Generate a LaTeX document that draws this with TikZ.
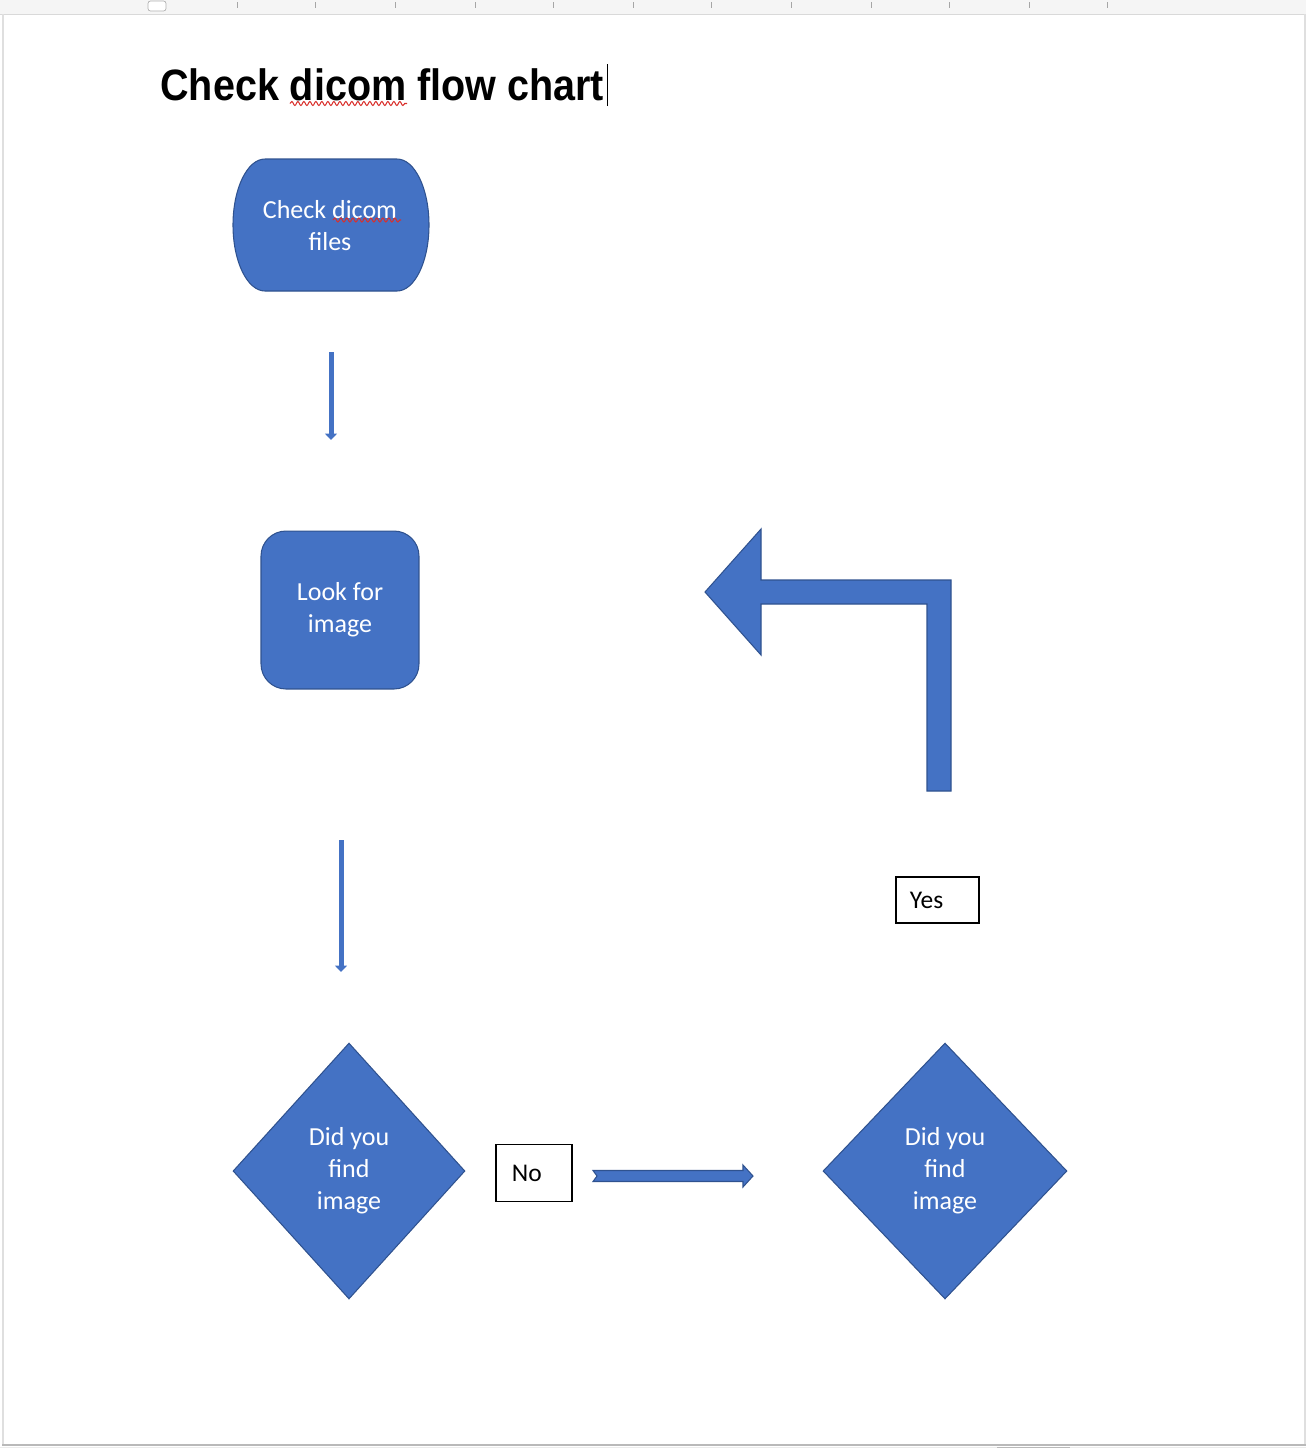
\documentclass[tikz,border=0pt]{standalone}
\usepackage{fontspec}
\setmainfont{Carlito}
\newfontfamily\titlefont[FakeStretch=0.9]{Liberation Sans}
\usepackage{tikz}
\usetikzlibrary{positioning, shapes.geometric, arrows.meta, decorations.pathmorphing}
\definecolor{shapeblue}{HTML}{4472C4}
\definecolor{shapeline}{HTML}{2F528F}
\definecolor{spellred}{HTML}{D9302C}

\begin{document}
\begin{tikzpicture}[x=0.02cm, y=-0.02cm,
    shapetext/.style={text=white, font=\fontsize{14.8}{18.2}\selectfont, align=center},
    shapefill/.style={fill=shapeblue, draw=shapeline, line width=0.6pt},
    process/.style={shapetext, shapefill, rectangle, rounded corners=0.5cm, minimum width=3.16cm, minimum height=3.16cm, inner sep=0pt},
    decision/.style={shapetext, shapefill, diamond, inner sep=0pt},
    answer/.style={draw=black, line width=1.1pt, rectangle, font=\fontsize{14.5}{17}\selectfont, align=left, inner ysep=0pt},
    thinarrow/.style={shapeblue, line width=0.1cm, -{Triangle[length=0.13cm, width=0.24cm]}},
    squiggle/.style={spellred, line width=0.6pt, decorate, decoration={snake, amplitude=0.04cm, segment length=0.12cm}}]

    \useasboundingbox (0,0) rectangle (1306,1448);

    % Page and ruler
    \fill[gray!8] (0,0) rectangle (1306,14);
    \draw[gray!30] (0,14) -- (1306,14);
    \foreach \t in {237,315,395,475,553,633,711,791,871,949,1029,1107}
        \draw[gray!70, line width=0.5pt] (\t,2) -- (\t,8);
    \draw[gray!60, fill=white, rounded corners=0.05cm] (148,1) rectangle (166,11);
    \draw[gray!25, line width=1pt] (3,14) -- (3,1445);
    \draw[gray!25, line width=1pt] (1305,14) -- (1305,1445);
    \draw[gray!55, line width=1.2pt] (2,1445) -- (1306,1445);
    \fill[gray!15] (0,1446.5) rectangle (1306,1448);
    \fill[gray!55] (997,1446.5) rectangle (1070,1448);

    % Title
    \node[anchor=base west, inner sep=0pt, font=\titlefont\bfseries\fontsize{25}{30}\selectfont] (title) at (160,100) {Check dicom flow chart};
    \draw[squiggle] (290,103.5) -- (407,103.5);
    \draw[line width=0.8pt] ([shift={(3,6)}]title.base east) -- ++(0,-42);

    % Start
    \draw[shapefill] (265,159) -- (397,159)
        .. controls (414.7,159) and (429,188.5) .. (429,225)
        .. controls (429,261.5) and (414.7,291) .. (397,291) -- (265,291)
        .. controls (247.3,291) and (233,261.5) .. (233,225)
        .. controls (233,188.5) and (247.3,159) .. (265,159) -- cycle;
    \node[shapetext] (start) at (330,226) {Check dicom\\files};
    \draw[squiggle] (333,220) -- (401,220);

    % Steps
    \node[process] (look) at (340,610) {Look for\\image};
    \node[decision, minimum width=4.64cm, minimum height=5.12cm] (find1) at (349,1171) {Did you\\find\\image};
    \node[decision, minimum width=4.88cm, minimum height=5.12cm] (find2) at (945,1171) {Did you\\find\\image};

    % Answers
    \node[answer, anchor=west, text width=0.88cm, inner xsep=0.32cm, minimum height=1.14cm] (no) at (495,1173) {No};
    \node[answer, anchor=west, text width=1.1cm, inner xsep=0.28cm, minimum height=0.92cm] (yes) at (895,900) {Yes};

    % Arrows
    \coordinate (a1s) at (331,352);
    \coordinate (a1e) at (331,440);
    \coordinate (a2s) at (341,840);
    \coordinate (a2e) at (341,972);
    \draw[thinarrow] (a1s) -- (a1e);
    \draw[thinarrow] (a2s) -- (a2e);

    \coordinate (noL) at (597,1176);
    \coordinate (noR) at (753,1176);
    \draw[shapefill] (noL) ++(-4,-5.5) -- ++(150,0) -- ++(0,-5.5) -- (noR)
        -- ++(-10,11) -- ++(0,-5.5) -- ++(-150,0) -- (noL) -- cycle;

    \coordinate (yesS) at (939,791);
    \coordinate (yesT) at (705,592);
    \draw[shapefill] (yesS) ++(12,0) -- ++(0,-211) -- ++(-190,0) -- ++(0,-51) -- (yesT)
        -- ++(56,63) -- ++(0,-51) -- ++(166,0) -- ++(0,187) -- cycle;

\end{tikzpicture}
\end{document}
